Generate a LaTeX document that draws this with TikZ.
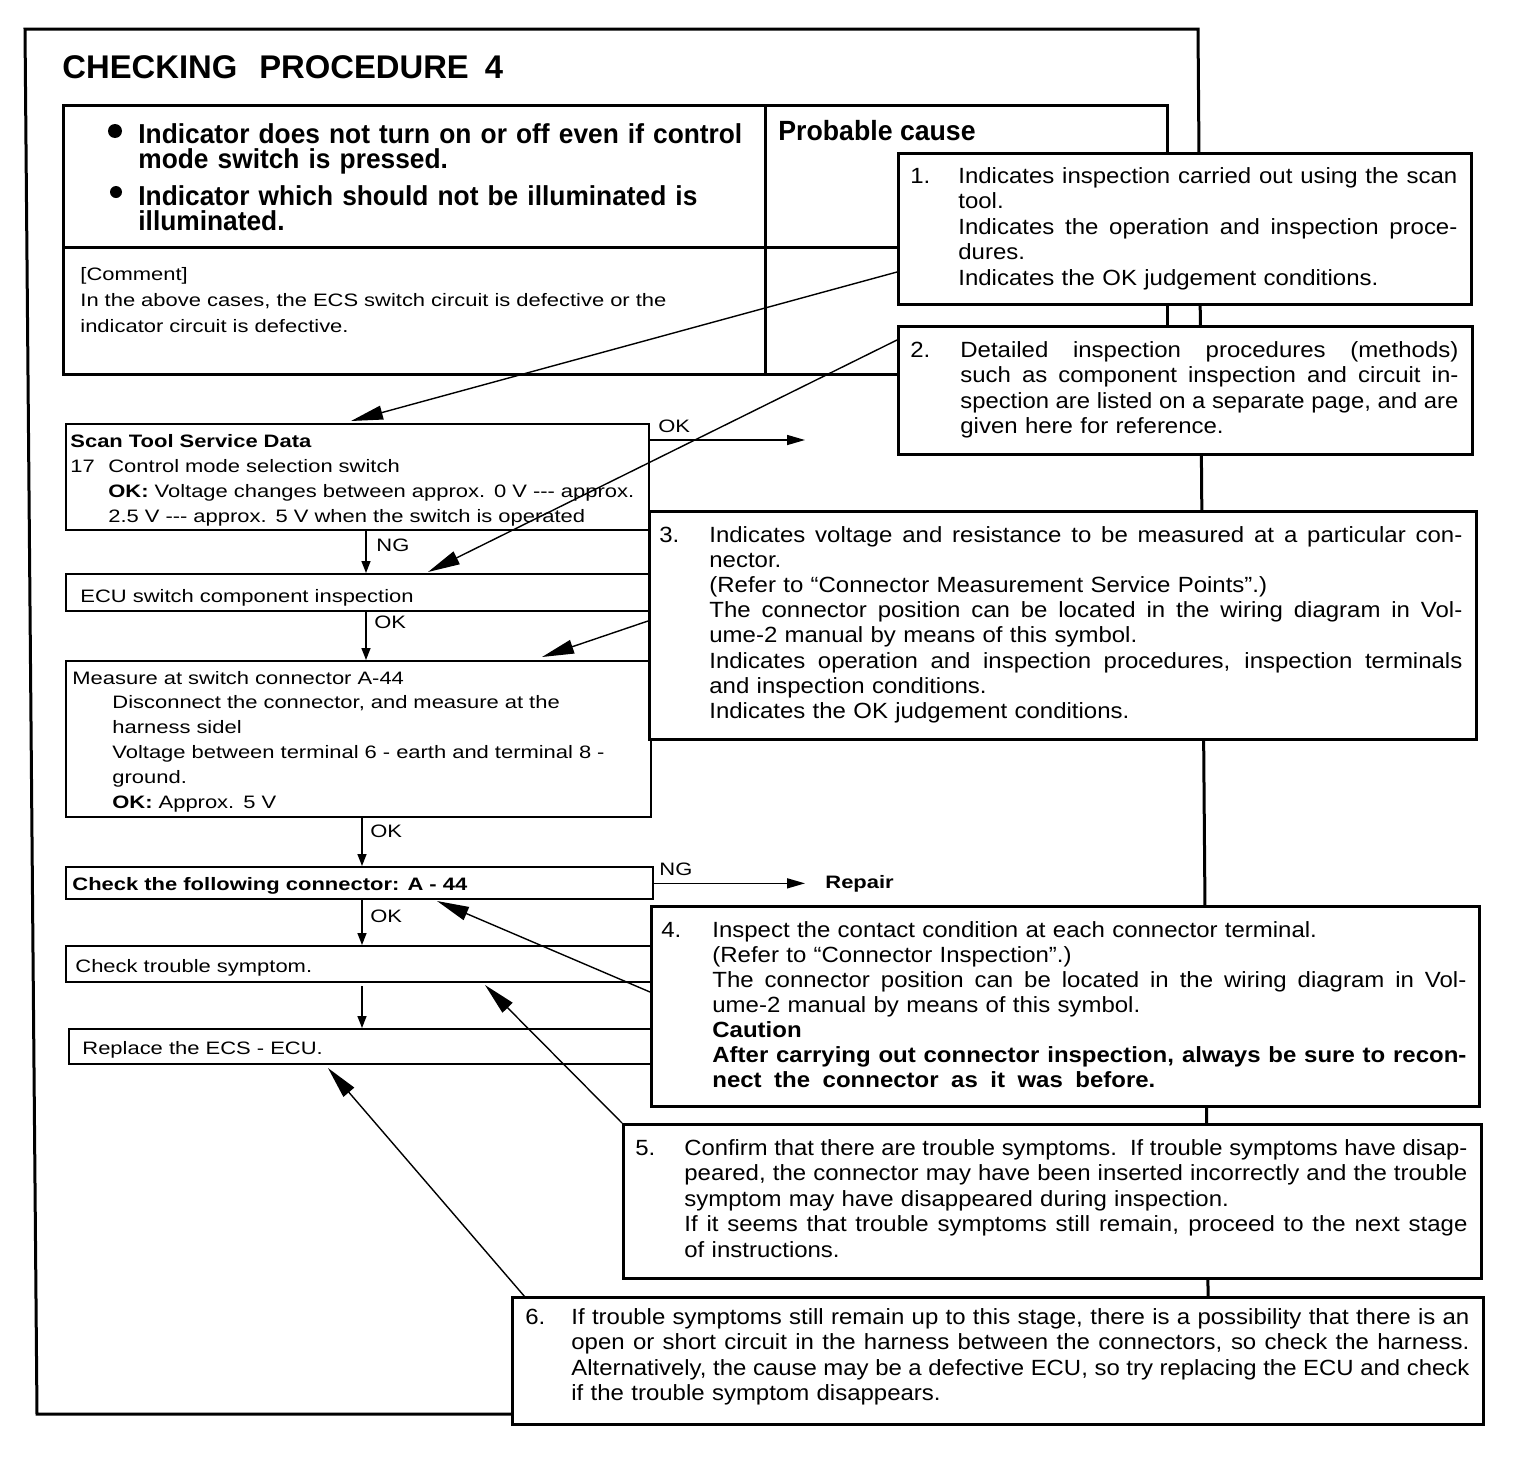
\documentclass[tikz,border=0pt]{standalone}
\usepackage{fontspec}
\usepackage{graphicx}
\setmainfont{Liberation Sans}
\newfontfamily\flowfont{Liberation Sans}[FakeStretch=1.22]
\newfontfamily\callfont{Liberation Sans}[FakeStretch=1.09]
\newfontfamily\symfont{Liberation Sans}[FakeStretch=0.96]
\usetikzlibrary{arrows.meta,calc}
\newsavebox\jlbox
\newcommand\JLine[2]{{\spaceskip=0pt\xspaceskip=0pt\sbox\jlbox{#2}\ifdim\wd\jlbox>#1\relax\resizebox{#1}{\height}{\usebox\jlbox}\else\makebox[#1][s]{#2}\fi}}
\newcommand\RectNode[6]{\node[#1, minimum width={(#5-#3)*0.5pt}, minimum height={(#6-#4)*0.5pt}] (#2) at (#3,#4) {};}
\tikzset{
  frameline/.style={line width=1.5pt, line join=miter},
  tablebox/.style={draw, line width=1.5pt, inner sep=0pt, anchor=north west},
  flowbox/.style={draw, line width=1pt, inner sep=0pt, anchor=north west},
  callbox/.style={draw, line width=1.5pt, fill=white, inner sep=0pt, anchor=north west},
  txt/.style={anchor=base west, inner sep=0pt, align=left},
  titletext/.style={txt, font=\bfseries\fontsize{16.4}{18}\selectfont},
  symtext/.style={txt, text width=330pt, font=\symfont\bfseries\fontsize{13.7}{12.75}\selectfont},
  flowtext/.style={txt, font=\flowfont\fontsize{9}{12.5}\selectfont},
  calltext/.style={txt, font=\callfont\fontsize{11}{12.75}\selectfont},
  flowarrow/.style={line width=0.75pt, -{Triangle[length=6pt,width=4.5pt]}},
  sidearrow/.style={line width=0.75pt, -{Triangle[length=9pt,width=5pt]}},
  callarrow/.style={line width=0.7pt, -{Triangle[length=16pt,width=7pt]}},
  bulletdot/.style={circle, fill=black, inner sep=0pt}
}
\begin{document}
\begin{tikzpicture}[x=0.5pt,y=-0.5pt]
\useasboundingbox (0,0) rectangle (1536,1456);
% outer frame
\draw[frameline] (25,29) -- (1198,29) -- (1209,1414) -- (37,1414) -- cycle;
\node[titletext] (title) at (62,78) {CHECKING\hspace{11pt}PROCEDURE\hspace{8pt}4};
% symptom table
\RectNode{tablebox}{tab}{62}{104}{1166}{373}
\draw[line width=1.5pt] (tab.north west -| 765,0) -- (tab.south west -| 765,0);
\draw[line width=1.5pt] (tab.west |- 0,247) -- (tab.east |- 0,247);
\node[bulletdot, minimum size=7pt] (bul1) at (115,131) {};
\node[bulletdot, minimum size=6pt] (bul2) at (116,192) {};
\node[symtext] (sym1) at (138,143) {Indicator does not turn on or off even if control\\mode switch is pressed.};
\node[symtext] (sym2) at (138,205) {Indicator which should not be illuminated is\\illuminated.};
\node[txt, font=\symfont\bfseries\fontsize{13.9}{15}\selectfont] (cause) at (778,140) {Probable cause};
\node[flowtext, text width=330pt, font=\flowfont\fontsize{9}{13}\selectfont] (comment) at (80,280) {[Comment]\\In the above cases, the ECS switch circuit is defective or the\\indicator circuit is defective.};
% flow boxes
\RectNode{flowbox}{scan}{65}{423}{648}{529}
\RectNode{flowbox}{ecu}{65}{573}{648}{610}
\RectNode{flowbox}{meas}{65}{660}{650}{816}
\RectNode{flowbox}{chk}{65}{866}{652}{898}
\RectNode{flowbox}{trb}{65}{945}{650}{981}
\RectNode{flowbox}{rep}{68}{1028}{650}{1063}
\node[flowtext, text width=300pt] (scanT) at (70,447) {\textbf{Scan Tool Service Data}\\
\makebox[19pt][l]{17}Control mode selection switch\\
\hspace*{19pt}\textbf{OK:} Voltage changes between approx. 0 V -{}-{}- approx.\\
\hspace*{19pt}2.5 V -{}-{}- approx. 5 V when the switch is operated};
\node[flowtext] (ecuT) at (80,602) {ECU switch component inspection};
\node[flowtext, text width=300pt, font=\flowfont\fontsize{9}{12.4}\selectfont] (measT) at (72,684) {Measure at switch connector A-44\\
\hspace*{20pt}Disconnect the connector, and measure at the\\
\hspace*{20pt}harness sidel\\
\hspace*{20pt}Voltage between terminal 6 - earth and terminal 8 -\\
\hspace*{20pt}ground.\\
\hspace*{20pt}\textbf{OK:} Approx. 5 V};
\node[flowtext, font=\flowfont\bfseries\fontsize{9}{12.5}\selectfont] (chkT) at (72,890) {Check the following connector: A - 44};
\node[flowtext] (trbT) at (75,972) {Check trouble symptom.};
\node[flowtext] (repT) at (82,1054) {Replace the ECS - ECU.};
\node[flowtext, font=\flowfont\bfseries\fontsize{9}{12.5}\selectfont] (repair) at (825,888) {Repair};
% labels
\node[flowtext] (lok1) at (658,432) {OK};
\node[flowtext] (lng1) at (376,551) {NG};
\node[flowtext] (lok2) at (374,628) {OK};
\node[flowtext] (lok3) at (370,837) {OK};
\node[flowtext] (lok4) at (370,922) {OK};
\node[flowtext] (lng2) at (659,875) {NG};
% flow arrows
\coordinate (colA) at (366,0);
\coordinate (colB) at (362,0);
\coordinate (okend) at (805,440);
\draw[flowarrow] (scan.south -| colA) -- (ecu.north -| colA);
\draw[flowarrow] (ecu.south -| colA) -- (meas.north -| colA);
\draw[flowarrow] (meas.south -| colB) -- (chk.north -| colB);
\draw[flowarrow] (chk.south -| colB) -- (trb.north -| colB);
\draw[flowarrow] ([yshift=-1.5pt]trb.south -| colB) -- (rep.north -| colB);
\draw[sidearrow] (scan.north east |- okend) -- (okend);
\draw[sidearrow] (chk.east |- repair.west) -- ([xshift=-10pt]repair.west);
% callout connectors
\coordinate (c1s) at (897,272);
\coordinate (c2s) at (897,340);
\coordinate (c3s) at (648,621);
\coordinate (c4s) at (650,992);
\coordinate (c5s) at (622,1123);
\coordinate (c6s) at (525,1297);
\draw[callarrow] (c1s) -- ($(scan.north west)+(286,-2)$);
\draw[callarrow] (c2s) -- ($(ecu.north west)+(363,-1)$);
\draw[callarrow] (c3s) -- ($(meas.north west)+(477,-3)$);
\draw[callarrow] (c4s) -- ($(chk.south west)+(372,1)$);
\draw[callarrow] (c5s) -- ($(trb.south west)+(420,2)$);
\draw[callarrow] (c6s) -- ($(rep.south west)+(260,3)$);
% callout boxes
\RectNode{callbox}{c1}{897}{152}{1470}{303}
\RectNode{callbox}{c2}{897}{325}{1471}{453}
\RectNode{callbox}{c3}{648}{510}{1475}{738}
\RectNode{callbox}{c4}{650}{905}{1478}{1105}
\RectNode{callbox}{c5}{622}{1123}{1480}{1277}
\RectNode{callbox}{c6}{511}{1296}{1482}{1423}
\node[calltext] (n1) at (910,183) {1.};
\node[calltext, text width=249.5pt] (t1) at (958,183) {\JLine{249.5pt}{Indicates inspection carried out using the scan}\\
tool.\\
\JLine{249.5pt}{Indicates the operation and inspection proce-}\\
dures.\\
Indicates the OK judgement conditions.};
\node[calltext] (n2) at (910,357) {2.};
\node[calltext, text width=249pt] (t2) at (960,357) {\JLine{249pt}{Detailed inspection procedures (methods)}\\
\JLine{249pt}{such as component inspection and circuit in-}\\
\JLine{249pt}{spection are listed on a separate page, and are}\\
given here for reference.};
\node[calltext] (n3) at (659,542) {3.};
\node[calltext, text width=376.5pt, font=\callfont\fontsize{11}{12.6}\selectfont] (t3) at (709,542) {\JLine{376.5pt}{Indicates voltage and resistance to be measured at a particular con-}\\
nector.\\
(Refer to “Connector Measurement Service Points”.)\\
\JLine{376.5pt}{The connector position can be located in the wiring diagram in Vol-}\\
ume-2 manual by means of this symbol.\\
\JLine{376.5pt}{Indicates operation and inspection procedures, inspection terminals}\\
and inspection conditions.\\
Indicates the OK judgement conditions.};
\node[calltext] (n4) at (661,937) {4.};
\node[calltext, text width=377pt, font=\callfont\fontsize{11}{12.5}\selectfont] (t4) at (712,937) {Inspect the contact condition at each connector terminal.\\
(Refer to “Connector Inspection”.)\\
\JLine{377pt}{The connector position can be located in the wiring diagram in Vol-}\\
ume-2 manual by means of this symbol.\\
\textbf{Caution}\\
\JLine{377pt}{\bfseries After carrying out connector inspection, always be sure to recon-}\\
\JLine{221.5pt}{\bfseries nect the connector as it was before.}};
\node[calltext] (n5) at (635,1155) {5.};
\node[calltext, text width=391.5pt] (t5) at (684,1155) {\JLine{391.5pt}{Confirm that there are trouble symptoms.\ \ If trouble symptoms have disap-}\\
\JLine{391.5pt}{peared, the connector may have been inserted incorrectly and the trouble}\\
symptom may have disappeared during inspection.\\
\JLine{391.5pt}{If it seems that trouble symptoms still remain, proceed to the next stage}\\
of instructions.};
\node[calltext] (n6) at (525,1324) {6.};
\node[calltext, text width=449pt] (t6) at (571,1324) {\JLine{449pt}{If trouble symptoms still remain up to this stage, there is a possibility that there is an}\\
\JLine{449pt}{open or short circuit in the harness between the connectors, so check the harness.}\\
\JLine{449pt}{Alternatively, the cause may be a defective ECU, so try replacing the ECU and check}\\
if the trouble symptom disappears.};
\end{tikzpicture}
\end{document}
